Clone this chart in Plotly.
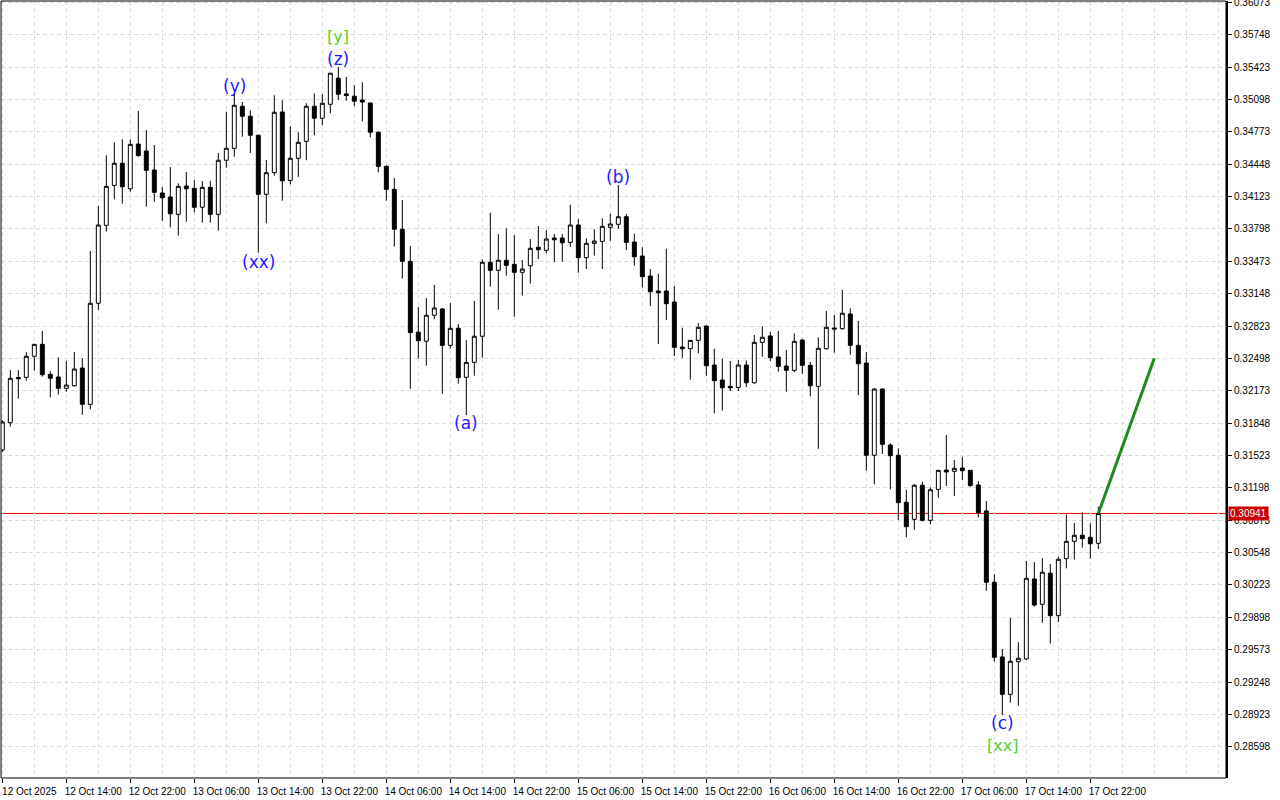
import plotly.graph_objects as go

# ---------------- data (hourly bars, 12 Oct 06:00 .. 17 Oct 23:00) ----------------
opens = [0.31578,0.31852,0.32306,0.32308,0.32519,0.32639,0.32338,0.32311,0.32197,0.32223,
         0.32401,0.32037,0.33051,0.33834,0.34235,0.34457,0.34201,0.34650,0.34580,0.34389,
         0.34158,0.34118,0.33944,0.34228,0.34205,0.34015,0.34215,0.33944,0.34487,0.34607,
         0.35029,0.34929,0.34738,0.34145,0.34362,0.34972,0.34285,0.34507,0.34677,0.35029,
         0.34909,0.35049,0.35311,0.35153,0.35130,0.35092,0.35062,0.34768,0.34426,0.34195,
         0.33794,0.33472,0.32761,0.32670,0.32931,0.32994,0.32629,0.32800,0.32308,0.32458,
         0.32720,0.33463,0.33382,0.33483,0.33442,0.33362,0.33428,0.33613,0.33583,0.33706,
         0.33706,0.33663,0.33837,0.33509,0.33653,0.33673,0.33814,0.33844,0.33920,0.33666,
         0.33526,0.33325,0.33174,0.33174,0.33064,0.32612,0.32595,0.32679,0.32823,0.32431,
         0.32281,0.32217,0.32207,0.32431,0.32253,0.32659,0.32723,0.32512,0.32421,0.32378,
         0.32682,0.32428,0.32217,0.32595,0.32803,0.32796,0.32944,0.32629,0.32451,0.31525,
         0.32190,0.31628,0.31525,0.31053,0.30882,0.31224,0.30872,0.31183,0.31377,0.31364,
         0.31397,0.31374,0.31227,0.30966,0.30250,0.29500,0.29125,0.29453,0.29480,0.30283,
         0.30029,0.30341,0.29915,0.30487,0.30661,0.30722,0.30702,0.30641]
highs = [0.31879,0.32381,0.32381,0.32562,0.32642,0.32773,0.32368,0.32509,0.32472,0.32562,
         0.32499,0.33576,0.34028,0.34537,0.34667,0.34697,0.34697,0.34982,0.34791,0.34640,
         0.34218,0.34419,0.34255,0.34369,0.34288,0.34278,0.34281,0.34560,0.34975,0.35153,
         0.35072,0.34987,0.34741,0.34490,0.35140,0.35089,0.34828,0.34768,0.35059,0.35160,
         0.35150,0.35364,0.35421,0.35324,0.35240,0.35271,0.35065,0.34778,0.34436,0.34308,
         0.34088,0.33626,0.33014,0.33104,0.33235,0.33004,0.33054,0.32843,0.32682,0.33074,
         0.33493,0.33960,0.33746,0.33803,0.33736,0.33486,0.33696,0.33827,0.33786,0.33746,
         0.33746,0.34041,0.33897,0.33703,0.33794,0.33904,0.33950,0.34238,0.33947,0.33750,
         0.33613,0.33395,0.33348,0.33599,0.33225,0.32806,0.32682,0.32853,0.32826,0.32595,
         0.32495,0.32472,0.32481,0.32478,0.32733,0.32818,0.32763,0.32773,0.32582,0.32750,
         0.32695,0.32461,0.32710,0.32974,0.32934,0.33185,0.33001,0.32873,0.32562,0.32200,
         0.32200,0.31645,0.31595,0.31179,0.31237,0.31260,0.31203,0.31377,0.31729,0.31478,
         0.31508,0.31377,0.31267,0.31066,0.30330,0.29580,0.29892,0.29648,0.30464,0.30454,
         0.30491,0.30434,0.30507,0.30932,0.30845,0.30953,0.30842,0.31009]
lows = [0.31558,0.31812,0.32093,0.32274,0.32374,0.32314,0.32107,0.32133,0.32163,0.32213,
        0.31932,0.31987,0.32984,0.33770,0.34095,0.34051,0.34171,0.34523,0.34021,0.34071,
        0.33880,0.33814,0.33730,0.33870,0.33964,0.33860,0.33860,0.33780,0.34412,0.34523,
        0.34724,0.34560,0.33559,0.33854,0.34331,0.34081,0.34245,0.34321,0.34487,0.34738,
        0.34838,0.34959,0.35092,0.35085,0.35030,0.34878,0.34718,0.34366,0.34081,0.33619,
        0.33298,0.32193,0.32495,0.32425,0.32891,0.32143,0.32595,0.32244,0.31929,0.32324,
        0.32505,0.33218,0.32987,0.33328,0.32917,0.33128,0.33248,0.33496,0.33553,0.33463,
        0.33469,0.33619,0.33358,0.33395,0.33529,0.33395,0.33679,0.33800,0.33586,0.33428,
        0.33209,0.33024,0.32642,0.32884,0.32522,0.32505,0.32284,0.32549,0.32324,0.31946,
        0.31972,0.32170,0.32170,0.32210,0.32243,0.32515,0.32471,0.32364,0.32163,0.32358,
        0.32344,0.32117,0.31591,0.32585,0.32555,0.32786,0.32535,0.32130,0.31370,0.31234,
        0.31538,0.31183,0.30875,0.30702,0.30778,0.30862,0.30832,0.31099,0.31217,0.31116,
        0.31277,0.31210,0.30902,0.30165,0.29453,0.28917,0.29041,0.29011,0.29470,0.30005,
        0.29844,0.29634,0.29850,0.30390,0.30477,0.30597,0.30487,0.30584]
closes = [0.31859,0.32298,0.32294,0.32519,0.32639,0.32334,0.32298,0.32197,0.32230,0.32391,
          0.32037,0.33051,0.33837,0.34225,0.34457,0.34221,0.34647,0.34533,0.34386,0.34165,
          0.34111,0.33950,0.34225,0.34201,0.34015,0.34215,0.33944,0.34487,0.34607,0.35039,
          0.34929,0.34738,0.34145,0.34362,0.34969,0.34281,0.34507,0.34667,0.35029,0.34909,
          0.35059,0.35361,0.35150,0.35136,0.35080,0.35072,0.34768,0.34426,0.34195,0.33794,
          0.33472,0.32757,0.32676,0.32931,0.33004,0.32629,0.32800,0.32304,0.32458,0.32720,
          0.33463,0.33382,0.33483,0.33432,0.33362,0.33395,0.33603,0.33589,0.33696,0.33689,
          0.33659,0.33837,0.33509,0.33653,0.33676,0.33824,0.33847,0.33920,0.33663,0.33519,
          0.33318,0.33167,0.33157,0.33047,0.32609,0.32595,0.32679,0.32810,0.32424,0.32274,
          0.32203,0.32203,0.32431,0.32253,0.32659,0.32710,0.32505,0.32418,0.32378,0.32669,
          0.32428,0.32223,0.32599,0.32810,0.32793,0.32951,0.32629,0.32444,0.31525,0.32190,
          0.31635,0.31521,0.31049,0.30808,0.31224,0.30872,0.31179,0.31374,0.31357,0.31394,
          0.31370,0.31220,0.30949,0.30250,0.29497,0.29125,0.29457,0.29487,0.30290,0.30022,
          0.30351,0.29915,0.30481,0.30661,0.30722,0.30688,0.30637,0.30941]
bar_index = list(range(len(opens)))

x_tick_bars = [0, 8, 16, 24, 32, 40, 48, 56, 64, 72, 80, 88, 96, 104, 112, 120, 128, 136]
x_tick_labels = ["12 Oct 2025", "12 Oct 14:00", "12 Oct 22:00", "13 Oct 06:00", "13 Oct 14:00",
                 "13 Oct 22:00", "14 Oct 06:00", "14 Oct 14:00", "14 Oct 22:00", "15 Oct 06:00",
                 "15 Oct 14:00", "15 Oct 22:00", "16 Oct 06:00", "16 Oct 14:00", "16 Oct 22:00",
                 "17 Oct 06:00", "17 Oct 14:00", "17 Oct 22:00"]
x_grid_bars = list(range(0, 153, 4))

y_ticks = [0.28598, 0.28923, 0.29248, 0.29573, 0.29898, 0.30223, 0.30548, 0.30873, 0.31198,
           0.31523, 0.31848, 0.32173, 0.32498, 0.32823, 0.33148, 0.33473, 0.33798, 0.34123,
           0.34448, 0.34773, 0.35098, 0.35423, 0.35748, 0.36073]
y_tick_labels = ["%.5f" % v for v in y_ticks]

current_price = 0.30941
forecast_x = [137, 144]
forecast_y = [0.30941, 0.32500]

wave_labels = ["[y]", "(z)", "(y)", "(xx)", "(a)", "(b)", "(c)", "[xx]"]
wave_x = [42, 42, 29, 32, 58, 77, 125, 125]
wave_y = [0.35725, 0.35504, 0.35233, 0.33466, 0.31849, 0.34319, 0.28837, 0.28616]
wave_colors = ["#55d02e", "#1c1cff", "#1c1cff", "#1c1cff", "#1c1cff", "#1c1cff", "#1c1cff", "#55d02e"]
wave_sizes = [16, 17, 17, 17, 17, 17, 17, 16]

# ---------------- figure ----------------
fig = go.Figure()

fig.add_trace(go.Candlestick(
    x=bar_index, open=opens, high=highs, low=lows, close=closes,
    increasing=dict(line=dict(color="black", width=1), fillcolor="white"),
    decreasing=dict(line=dict(color="black", width=1), fillcolor="black"),
    whiskerwidth=0, hoverinfo="skip", showlegend=False,
))

fig.add_trace(go.Scatter(
    x=forecast_x, y=forecast_y, mode="lines",
    line=dict(color="#1f8a1f", width=3), hoverinfo="skip", showlegend=False,
))

# current price line
fig.add_shape(type="line", xref="paper", x0=0, x1=1, yref="y", y0=current_price, y1=current_price,
              line=dict(color="#ff0000", width=1), layer="between")
fig.add_annotation(xref="paper", x=1, yref="y", y=current_price, text="%.5f" % current_price,
                   showarrow=False, xanchor="left", xshift=2, yanchor="middle",
                   bgcolor="#cc0000", font=dict(color="white", size=10, family="Liberation Sans"),
                   borderpad=1)

for t, xi, yi, c, s in zip(wave_labels, wave_x, wave_y, wave_colors, wave_sizes):
    fig.add_annotation(x=xi, y=yi, xref="x", yref="y", text=t, showarrow=False,
                       font=dict(color=c, size=s, family="DejaVu Sans"))

# frame
fig.add_shape(type="rect", xref="paper", yref="paper", x0=0, x1=1, y0=0, y1=1,
              line=dict(color="black", width=1), fillcolor="rgba(0,0,0,0)", layer="above")

fig.update_layout(
    width=1280, height=800,
    margin=dict(l=1, r=54, t=1, b=22, autoexpand=False),
    paper_bgcolor="white", plot_bgcolor="white",
    showlegend=False,
    boxgap=0.3, boxgroupgap=0.3,
    xaxis=dict(
        range=[-0.1625, 152.96], rangeslider=dict(visible=False), automargin=False,
        tickmode="array", tickvals=x_tick_bars, ticktext=x_tick_labels,
        ticks="outside", ticklen=4, tickcolor="black", tickangle=0,
        ticklabelshift=27, ticklabelstandoff=0, ticklabeloverflow="allow",
        tickfont=dict(family="Liberation Sans", size=10, color="black"),
        showgrid=True, gridcolor="#dcdcdc", griddash="4px,3px", gridwidth=1,
        minor=dict(tickvals=x_grid_bars, showgrid=True, gridcolor="#dcdcdc", griddash="4px,3px", ticks=""),
        zeroline=False, showline=False, fixedrange=True,
    ),
    yaxis=dict(
        side="right", range=[0.28285, 0.36086], automargin=False,
        tickmode="array", tickvals=y_ticks, ticktext=y_tick_labels,
        ticks="outside", ticklen=4, tickcolor="black", ticklabeloverflow="allow",
        tickfont=dict(family="Liberation Sans", size=10, color="black"),
        showgrid=True, gridcolor="#dcdcdc", griddash="4px,3px", gridwidth=1,
        zeroline=False, showline=True, linecolor="black", linewidth=2, fixedrange=True,
    ),
)

page_reset = "document.body.style.margin='0';document.body.style.overflow='hidden';"
fig.write_html("out.html", post_script=page_reset, config={"displayModeBar": False})
